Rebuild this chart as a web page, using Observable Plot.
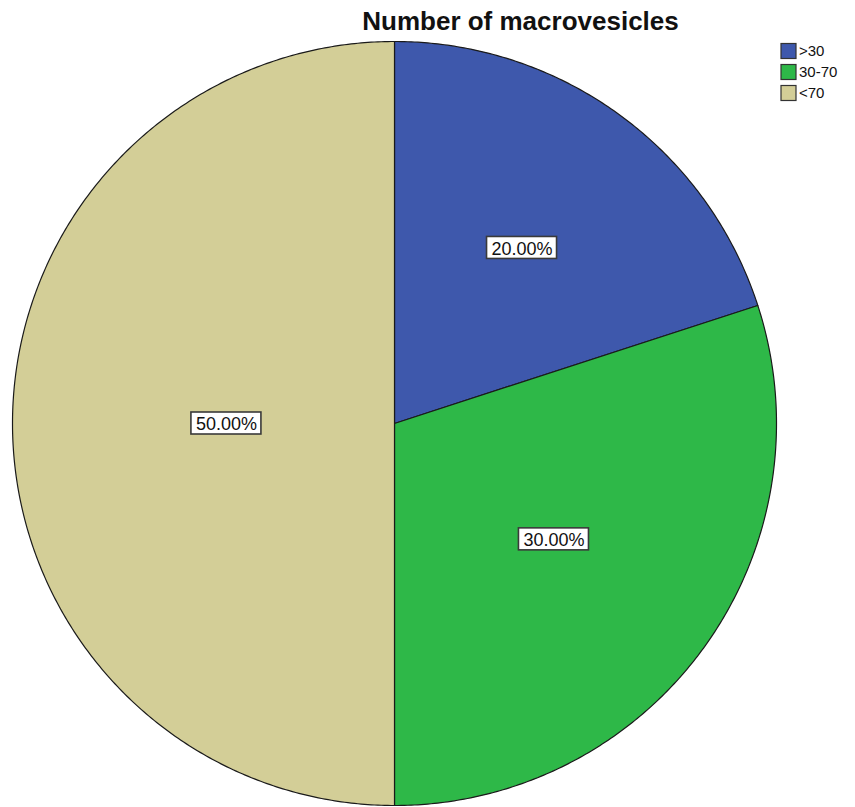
<!DOCTYPE html>
<html>
<head>
<meta charset="utf-8">
<script src="https://cdn.jsdelivr.net/npm/d3@7"></script>
<script src="https://cdn.jsdelivr.net/npm/@observablehq/plot@0.6"></script>
<style>
  html, body { margin: 0; padding: 0; background: #fff; }
  #chart svg { display: block; }
</style>
</head>
<body>
<div id="chart"></div>
<script>
// ---- data ----
const chartTitle = "Number of macrovesicles";
const categories = [">30", "30-70", "<70"];
const percents = [20, 30, 50];
const colors = ["#3e58ac", "#2eb848", "#d3ce97"];

// ---- layout constants ----
const W = 855, H = 807;
const CX = 394, CY = 423, R = 382;
const FONT = "'Liberation Sans', Arial, sans-serif";
const toX = px => (px - CX) / R;
const toY = py => (CY - py) / R;

// ---- build slice outlines from data (clockwise from 12 o'clock) ----
const slicePts = [];
const labels = [];
let acc = 0;
percents.forEach((p, i) => {
  const a0 = acc / 100 * 2 * Math.PI;
  const a1 = (acc + p) / 100 * 2 * Math.PI;
  const n = Math.ceil(p * 7.2);
  slicePts.push({cat: categories[i], x: 0, y: 0});
  for (let k = 0; k <= n; k++) {
    const a = a0 + (a1 - a0) * k / n;
    slicePts.push({cat: categories[i], x: Math.sin(a), y: Math.cos(a)});
  }
  slicePts.push({cat: categories[i], x: 0, y: 0});
  // label placed near the sector centroid
  const mid = (a0 + a1) / 2, h = (a1 - a0) / 2;
  const c = 2 * Math.sin(h) / (3 * h);
  const d = 0.44 + 0.514 * (c - 0.4244) + 2.5 * (c - 0.4244) * (c - 0.5723);
  labels.push({cat: categories[i], text: p.toFixed(2) + "%", x: d * Math.sin(mid), y: d * Math.cos(mid)});
  acc += p;
});

const legendItems = categories.map((c, i) => ({cat: c, i}));
const LX = 788.5, LY0 = 51, LSTEP = 21;

const plot = Plot.plot({
  width: W,
  height: H,
  margin: 0,
  x: {type: "linear", domain: [-1, 1], range: [CX - R, CX + R], axis: null},
  y: {type: "linear", domain: [-1, 1], range: [CY + R, CY - R], axis: null},
  color: {domain: categories, range: colors},
  style: {fontFamily: FONT, background: "#fff"},
  marks: [
    Plot.line(slicePts, {x: "x", y: "y", z: "cat", fill: "cat", stroke: "#1a1a1a", strokeWidth: 1.2, curve: "linear", strokeLinejoin: "round"}),
    // percentage labels with boxes
    Plot.rect(labels, {x1: "x", x2: "x", y1: "y", y2: "y", insetLeft: -35, insetRight: -35, insetTop: -11, insetBottom: -11, fill: "#fff", stroke: "#3a3a3a", strokeWidth: 1.6}),
    Plot.text(labels, {x: "x", y: "y", text: "text", fontSize: 18, fill: "#111", dy: 1}),
    // title
    Plot.text([chartTitle], {x: toX(520), y: toY(21), text: d => d, fontSize: 26, fontWeight: "bold", fill: "#111"}),
    // legend
    Plot.rect(legendItems, {x1: () => toX(LX), x2: () => toX(LX), y1: d => toY(LY0 + LSTEP * d.i), y2: d => toY(LY0 + LSTEP * d.i), insetLeft: -7.5, insetRight: -7.5, insetTop: -7.5, insetBottom: -7.5, fill: "cat", stroke: "#333", strokeWidth: 1.2}),
    Plot.text(legendItems, {x: () => toX(LX + 10), y: d => toY(LY0 + LSTEP * d.i), text: "cat", textAnchor: "start", fontSize: 15, fill: "#111"})
  ]
});
document.getElementById("chart").appendChild(plot);
</script>
</body>
</html>
